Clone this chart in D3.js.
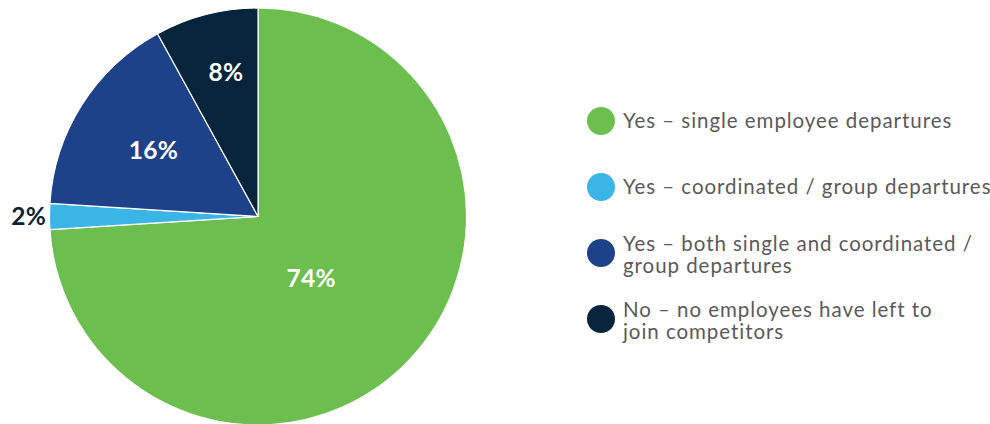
<!DOCTYPE html>
<html>
<head>
<meta charset="utf-8">
<script src="https://cdn.jsdelivr.net/npm/d3@7/dist/d3.min.js"></script>
<style>
  html, body { margin: 0; padding: 0; background: #ffffff; }
  svg { display: block; }
</style>
</head>
<body>
<svg id="chart" width="990" height="424"></svg>
<script>
// Survey answers, in clockwise order from 12 o'clock
const categories = [
  "Yes – single employee departures",
  "Yes – coordinated / group departures",
  "Yes – both single and coordinated / group departures",
  "No – no employees have left to join competitors"
];
const shares = [74, 2, 16, 8];
const valueLabels = ["74%", "2%", "16%", "8%"];
// Legend text, broken into lines
const legendLines = [
  ["Yes – single employee departures"],
  ["Yes – coordinated / group departures"],
  ["Yes – both single and coordinated /", "group departures"],
  ["No – no employees have left to", "join competitors"]
];

// Styling and layout
const colors = ["#6cbf4f", "#3bb4e6", "#1e4289", "#06243b"];
const cx = 258, cy = 216.5, R = 208.5;
// label radius (as fraction of R) and angular nudge (degrees) per slice
const labelPlacement = [
  { r: 0.393, nudge: 6.4, color: "#ffffff" },
  { r: 1.10,  nudge: 0,   color: "#0b2239" },
  { r: 0.594, nudge: 0,   color: "#ffffff" },
  { r: 0.708, nudge: 1.9, color: "#ffffff" }
];

const svg = d3.select("#chart");

const pie = d3.pie().sort(null).value(d => d);
const arcs = pie(shares);
const arc = d3.arc().innerRadius(0).outerRadius(R);

const g = svg.append("g").attr("transform", `translate(${cx},${cy})`);

g.selectAll("path.slice")
  .data(arcs)
  .join("path")
  .attr("class", "slice")
  .attr("d", arc)
  .attr("fill", (d, i) => colors[i])
  .attr("stroke", "#ffffff")
  .attr("stroke-width", 1.2)
  .attr("stroke-linejoin", "round");

const deg = Math.PI / 180;
g.selectAll("text.val")
  .data(arcs)
  .join("text")
  .attr("class", "val")
  .each(function (d, i) {
    const p = labelPlacement[i];
    const a = (d.startAngle + d.endAngle) / 2 + p.nudge * deg;
    const r = p.r * R;
    d3.select(this)
      .attr("x", Math.sin(a) * r)
      .attr("y", -Math.cos(a) * r)
      .attr("fill", p.color);
  })
  .attr("text-anchor", "middle")
  .attr("dy", "0.35em")
  .attr("font-family", "Lato, 'Open Sans', sans-serif")
  .attr("font-weight", 700)
  .attr("font-size", 24.5)
  .attr("letter-spacing", 0.3)
  .text((d, i) => valueLabels[i]);

// Legend
const legendX = 601, textX = 623;
const legendY = d3.scalePoint().domain(d3.range(categories.length)).range([121, 319]);

const items = svg.append("g").selectAll("g.item")
  .data(categories)
  .join("g")
  .attr("class", "item")
  .attr("transform", (d, i) => `translate(0,${legendY(i)})`);

items.append("circle")
  .attr("cx", legendX)
  .attr("cy", 0)
  .attr("r", 14)
  .attr("fill", (d, i) => colors[i]);

items.append("text")
  .attr("font-family", "Lato, 'Open Sans', sans-serif")
  .attr("font-size", 20.5)
  .attr("letter-spacing", 0.95)
  .attr("fill", "#5a5a5a")
  .each(function (d, i) {
    const lines = legendLines[i];
    const t = d3.select(this);
    const first = lines.length === 1 ? 6.5 : -2;
    lines.forEach((ln, k) => {
      t.append("tspan")
        .attr("x", textX)
        .attr("y", first + k * 22)
        .text(ln);
    });
  });
</script>
</body>
</html>
